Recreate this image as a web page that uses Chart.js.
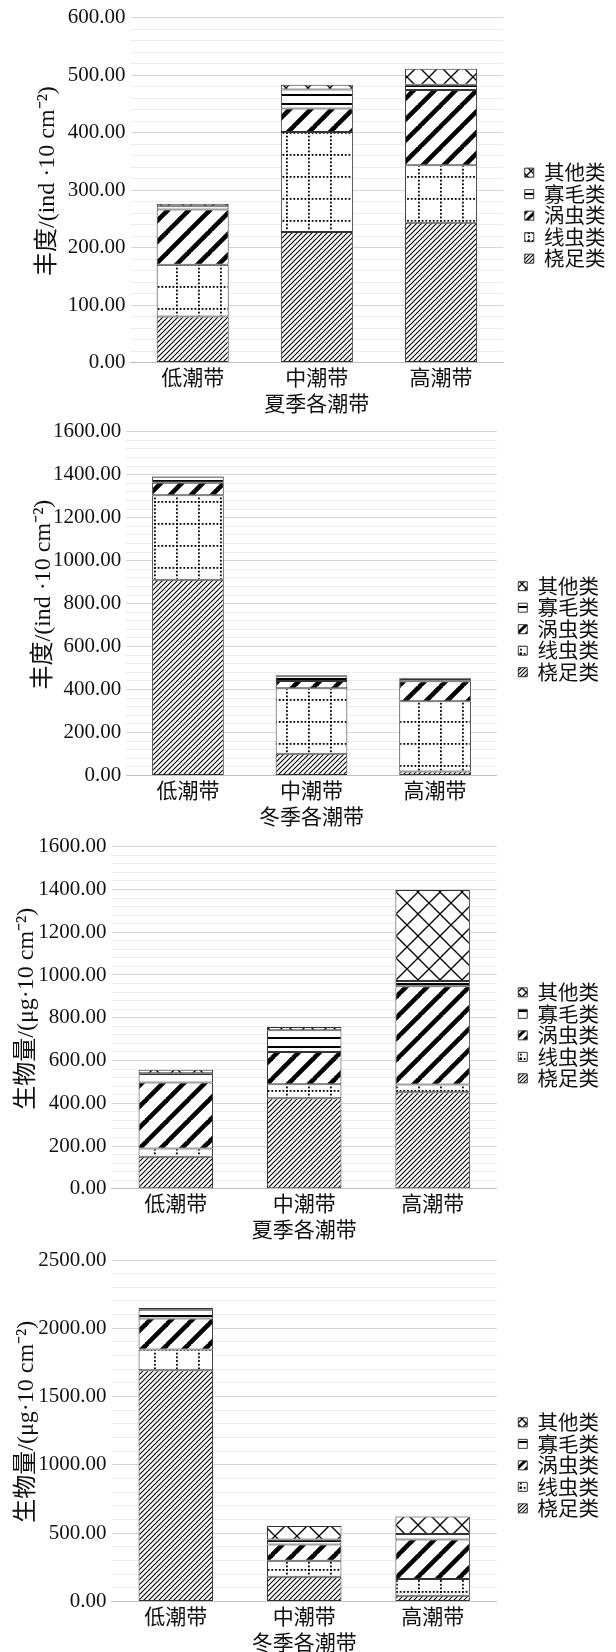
<!DOCTYPE html>
<html>
<head>
<meta charset="utf-8">
<script src="https://cdn.jsdelivr.net/npm/chart.js@4/dist/chart.umd.min.js"></script>
<style>
  html, body { margin: 0; background: #fff; overflow: hidden; }
  .box { position: absolute; left: 0; width: 616px; }
</style>
</head>
<body>
<div class="box" style="top:0px;height:415px"><canvas id="c1"></canvas></div>
<div class="box" style="top:413px;height:416px"><canvas id="c2"></canvas></div>
<div class="box" style="top:826px;height:416px"><canvas id="c3"></canvas></div>
<div class="box" style="top:1239px;height:415px"><canvas id="c4"></canvas></div>
<script>
const zones = ['低潮带', '中潮带', '高潮带'];
const taxa = ['桡足类', '线虫类', '涡虫类', '寡毛类', '其他类'];

// rows follow taxa order, columns follow zones
const abundanceSummer = [
  [80, 227, 243],
  [90, 174, 100],
  [96, 41, 131],
  [6, 33, 9],
  [4, 8, 28]
];
const abundanceWinter = [
  [911, 101, 19],
  [393, 305, 326],
  [58, 34, 94],
  [28, 22, 14],
  [3, 4, 2]
];
const biomassSummer = [
  [150, 423, 451],
  [38, 66, 37],
  [309, 151, 459],
  [44, 101, 25],
  [16, 16, 425]
];
const biomassWinter = [
  [1692, 182, 42],
  [152, 116, 122],
  [228, 120, 289],
  [64, 36, 42],
  [12, 98, 127]
];

// y axis: max, labelled step, grid step
const axisAbdSummer = [600, 100, 20];
const axisAbdWinter = [1600, 200, 40];
const axisBioSummer = [1600, 200, 40];
const axisBioWinter = [2500, 500, 100];

const SERIF = "'Liberation Serif', 'Noto Sans CJK SC', serif";
const CJK = "'Noto Sans CJK SC', 'Liberation Serif', sans-serif";

function tile(w, h, draw) {
  const c = document.createElement('canvas');
  c.width = w; c.height = h;
  const g = c.getContext('2d');
  g.fillStyle = '#fff';
  g.fillRect(0, 0, w, h);
  g.fillStyle = '#000';
  g.strokeStyle = '#000';
  draw(g, w, h);
  return g.createPattern(c, 'repeat');
}

function diag(g, s, flip) {
  for (let k = -1; k <= 1; k++) {
    g.beginPath();
    if (flip) {
      g.moveTo(k * s - 1, -1);
      g.lineTo(k * s + s + 1, s + 1);
    } else {
      g.moveTo(k * s - 1, s + 1);
      g.lineTo(k * s + s + 1, -1);
    }
    g.stroke();
  }
}

// one set of fills for the bars, a tighter set for the small legend keys
function makeFills(grid, stripe, lattice, fine) {
  return [
    tile(fine, fine, (g, s) => { g.lineWidth = 1.1; diag(g, s); }),
    tile(grid, grid, (g, s) => {
      for (let i = 0; i < s; i += 3.7) {
        g.fillRect(i, 0, 1.8, 1.8);
        g.fillRect(0, i, 1.8, 1.8);
      }
    }),
    tile(stripe, stripe, (g, s) => { g.lineWidth = stripe > 12 ? 4.6 : 3; diag(g, s); }),
    tile(8, 9, (g, w) => { g.fillRect(0, 4, w, 2); }),
    tile(lattice, lattice, (g, s) => {
      g.lineWidth = 1.3;
      diag(g, s);
      diag(g, s, true);
    })
  ];
}
const fills = makeFills(22, 21, 22, 5);
const keyFills = makeFills(8, 9, 9, 4);

function drawChart(id, rows, axis, yTitle, xTitle, lay) {
  const [yMax, major, minor] = axis;
  new Chart(document.getElementById(id), {
    type: 'bar',
    data: {
      labels: zones,
      datasets: taxa.map((name, i) => ({
        label: name,
        data: rows[i],
        backgroundColor: fills[i],
        borderColor: '#333',
        borderWidth: 1,
        borderSkipped: false,
        barPercentage: 1,
        categoryPercentage: 0.58
      }))
    },
    options: {
      responsive: true,
      maintainAspectRatio: false,
      animation: false,
      layout: { padding: lay.pad },
      plugins: {
        tooltip: { enabled: false },
        legend: {
          position: 'right',
          fullSize: false,
          reverse: true,
          title: {
            display: true,
            text: '',
            font: { size: 1 },
            padding: { top: 0, bottom: lay.legendShift }
          },
          labels: {
            boxWidth: 9,
            boxHeight: 9,
            padding: 1,
            color: '#111',
            font: { family: CJK, size: 20.5 },
            generateLabels: chart =>
              Chart.defaults.plugins.legend.labels.generateLabels(chart)
                .map(item => ({ ...item, fillStyle: keyFills[item.datasetIndex] }))
          }
        }
      },
      scales: {
        x: {
          stacked: true,
          grid: { display: false, drawTicks: false },
          border: { color: '#bfbfbf' },
          ticks: { color: '#111', padding: 1.5, font: { family: CJK, size: 21 } },
          title: {
            display: true, text: xTitle, color: '#111',
            padding: { top: 0.8, bottom: 0 },
            font: { family: CJK, size: 21, lineHeight: 1.1 }
          }
        },
        y: {
          stacked: true,
          min: 0, max: yMax,
          border: { display: false },
          grid: {
            drawTicks: false,
            color: c => (c.tick.value % major === 0 ? '#d6d6d6' : '#ececec'),
            lineWidth: 1
          },
          ticks: {
            stepSize: minor,
            autoSkip: false,
            padding: 5,
            color: '#111',
            font: { family: SERIF, size: 21 },
            callback: v => (v % major === 0 ? v.toFixed(2) : '')
          },
          title: {
            display: true, text: '\u00a0\u00a0\u00a0' + yTitle, color: '#111',
            padding: { top: 0, bottom: lay.titleGap },
            font: { family: SERIF, size: 24 }
          }
        },
        // spacer between the plot and the legend
        gap: {
          type: 'linear',
          position: 'right',
          grid: { display: false },
          border: { display: false },
          ticks: { display: false },
          afterFit: s => { s.width = lay.gap; }
        }
      }
    }
  });
}

drawChart('c1', abundanceSummer, axisAbdSummer, '丰度/(ind ·10 cm⁻²)', '夏季各潮带',
  { pad: { top: 16, left: 33.6, right: 0.5, bottom: 0.4 }, titleGap: 15.8, gap: 20.6, legendShift: 50 });
drawChart('c2', abundanceWinter, axisAbdWinter, '丰度/(ind ·10 cm⁻²)', '冬季各潮带',
  { pad: { top: 18.7, left: 29.6, right: 7, bottom: 1.4 }, titleGap: 11.3, gap: 20.4, legendShift: 50 });
drawChart('c3', biomassSummer, axisBioSummer, '生物量/(μg·10 cm⁻²)', '夏季各潮带',
  { pad: { top: 20.7, left: 12.1, right: 7, bottom: 1.1 }, titleGap: 12.8, gap: 20.4, legendShift: 34 });
drawChart('c4', biomassWinter, axisBioWinter, '生物量/(μg·10 cm⁻²)', '冬季各潮带',
  { pad: { top: 21, left: 12.1, right: 7, bottom: 0.4 }, titleGap: 12.8, gap: 20.4, legendShift: 68 });
</script>
</body>
</html>
